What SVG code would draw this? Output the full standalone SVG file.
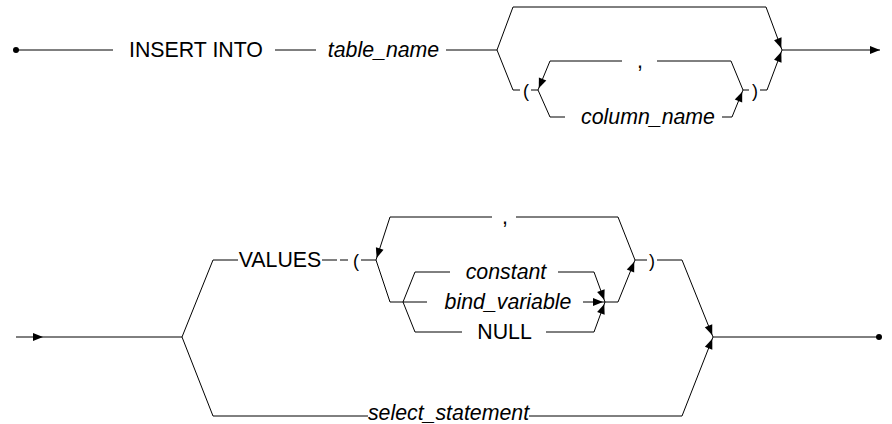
<svg xmlns="http://www.w3.org/2000/svg" width="892" height="424" viewBox="0 0 892 424">
<style>
.c path{fill:none;stroke:#000;stroke-width:1}
text{font-family:"Liberation Sans",Arial,sans-serif;font-size:21.33px;fill:#000;text-anchor:middle}
.i{font-style:italic}
.p{font-size:18px}
</style>
<defs>
<marker id="a" viewBox="0 0 10 8" refX="10" refY="4" markerWidth="10" markerHeight="8" markerUnits="userSpaceOnUse" orient="auto"><path d="M0,0 L10,4 L0,8 z" fill="#000"/></marker>
<marker id="j" viewBox="0 0 10 8" refX="12" refY="4" markerWidth="10" markerHeight="8" markerUnits="userSpaceOnUse" orient="auto" overflow="visible"><path d="M0,0 L10,4 L0,8 z" fill="#000"/></marker>
</defs>
<rect width="892" height="424" fill="#fff"/>
<g class="c" id="connectors">
<path d="M16,50 L113,50"/>
<path d="M275,50 L316,50"/>
<path d="M446,50 L497,50"/>
<path d="M497,50 L513,7 L766,7 L782,50" marker-end="url(#j)"/>
<path d="M497,50 L513,90 L520,90"/>
<path d="M531,90 L538,90"/>
<path d="M743,90 L731,61 L657,61"/>
<path d="M622,61 L550,61 L538,90" marker-end="url(#j)"/>
<path d="M538,90 L550,117 L565,117"/>
<path d="M722,117 L732,117 L743,90" marker-end="url(#j)"/>
<path d="M743,90 L749,90"/>
<path d="M760,90 L767,90 L782,50" marker-end="url(#j)"/>
<path d="M782,50 L880,50" marker-end="url(#a)"/>
<path d="M16,337 L43,337 L182,337" marker-mid="url(#a)"/>
<path d="M182,337 L213,260 L238,260"/>
<path d="M322,260 L337,260"/>
<path d="M340,260 L348,260"/>
<path d="M361,260 L376,260"/>
<path d="M635,260 L618,217 L516,217"/>
<path d="M492,217 L390,217 L376,260" marker-end="url(#j)"/>
<path d="M376,260 L390,302 L427,302"/>
<path d="M403,302 L415,272 L450,272"/>
<path d="M558,272 L594,272 L605,302" marker-end="url(#j)"/>
<path d="M583,302 L605,302" marker-end="url(#j)"/>
<path d="M403,302 L415,332 L462,332"/>
<path d="M546,332 L594,332 L605,302" marker-end="url(#j)"/>
<path d="M605,302 L618,302 L635,260" marker-end="url(#j)"/>
<path d="M635,260 L647,260"/>
<path d="M657,260 L682,260 L713,337" marker-end="url(#j)"/>
<path d="M182,337 L213,416 L368,416"/>
<path d="M529,416 L682,416 L713,337" marker-end="url(#j)"/>
<path d="M713,337 L879,337"/>
<circle cx="16" cy="50" r="3" fill="#000"/>
<circle cx="879" cy="337" r="3" fill="#000"/>
</g>
<g id="n-insert"><text x="196" y="57">INSERT INTO</text></g>
<g id="n-table"><text class="i" x="383.5" y="57">table_name</text></g>
<g id="n-lp1"><text class="p" x="526" y="97">(</text></g>
<g id="n-comma1"><text x="640" y="68">,</text></g>
<g id="n-column"><text class="i" x="648" y="124">column_name</text></g>
<g id="n-rp1"><text class="p" x="755" y="97">)</text></g>
<g id="n-values"><text x="280" y="267">VALUES</text></g>
<g id="n-lp2"><text class="p" x="356" y="267">(</text></g>
<g id="n-comma2"><text x="505" y="224">,</text></g>
<g id="n-constant"><text class="i" x="506" y="279">constant</text></g>
<g id="n-bind"><text class="i" x="508" y="309">bind_variable</text></g>
<g id="n-null"><text x="504.5" y="339">NULL</text></g>
<g id="n-rp2"><text class="p" x="652" y="267">)</text></g>
<g id="n-select"><text class="i" x="448.5" y="420">select_statement</text></g>
</svg>
